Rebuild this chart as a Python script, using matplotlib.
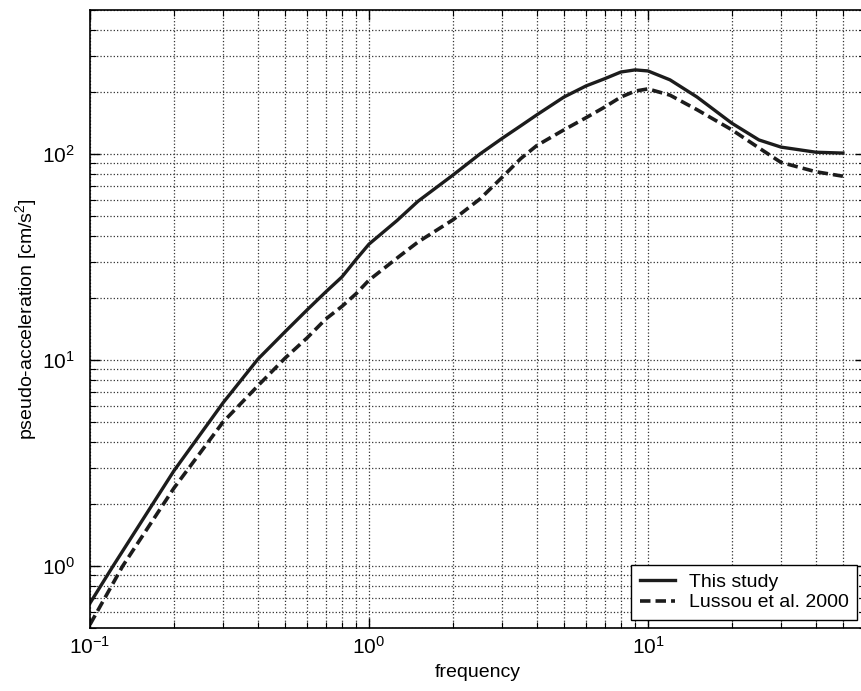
import numpy as np
import matplotlib
matplotlib.use("Agg")
import matplotlib.pyplot as plt
from matplotlib.ticker import LogLocator, NullFormatter

plt.rcParams['font.family'] = ['Liberation Sans', 'DejaVu Sans']
plt.rcParams['mathtext.fontset'] = 'custom'
plt.rcParams['mathtext.rm'] = 'Liberation Sans'
plt.rcParams['mathtext.it'] = 'Liberation Sans:italic'
plt.rcParams['font.size'] = 14

# datos
freq_estudio = [0.1, 0.121, 0.2, 0.3, 0.4, 0.5, 0.6, 0.7, 0.8, 0.9, 1.0, 1.26, 1.5,
                2.0, 2.5, 3.0, 3.5, 4.0, 5.0, 6.0, 7.0, 8.0, 9.0, 10.0, 12.0, 15.0,
                20.0, 25.0, 30.0, 40.0, 50.0]
acel_estudio = [0.66, 1.0, 2.9, 6.2, 10.1, 13.7, 17.5, 21.4, 25.3, 30.8, 36.5, 47.5,
                59.0, 79.0, 100.0, 119.0, 137.0, 155.0, 189.0, 214.0, 232.0, 250.0,
                256.0, 253.0, 229.0, 189.0, 141.0, 117.0, 108.0, 102.0, 101.0]

freq_lussou = [0.1, 0.131, 0.2, 0.3, 0.4, 0.5, 0.6, 0.7, 0.8, 0.9, 1.0, 1.29, 1.5,
               2.0, 2.5, 3.0, 3.5, 4.0, 5.0, 6.0, 7.0, 8.0, 9.0, 10.0, 12.0, 15.0,
               20.0, 25.0, 30.0, 40.0, 50.0]
acel_lussou = [0.52, 1.0, 2.39, 5.0, 7.5, 10.2, 12.8, 15.8, 18.2, 21.0, 24.4, 32.0,
               37.4, 47.9, 60.5, 77.0, 95.0, 110.0, 131.0, 150.0, 169.0, 189.0, 202.0,
               207.0, 193.0, 164.0, 131.0, 107.0, 91.0, 82.0, 78.0]

fig = plt.figure(figsize=(8.62, 6.91), dpi=100)
ax = fig.add_axes([90/862, 63/691, 775/862, 618/691])

ax.loglog(freq_estudio, acel_estudio, color='#1c1c1c', lw=2.4, label='This study')
ax.loglog(freq_lussou, acel_lussou, color='#1c1c1c', lw=2.6, dashes=(2.9, 1.4),
          label='Lussou et al. 2000')

ax.set_xlim(0.1, 60)
ax.set_ylim(0.5, 500)
ax.xaxis.set_major_locator(LogLocator(base=10, numticks=10))
ax.yaxis.set_major_locator(LogLocator(base=10, numticks=10))
ax.xaxis.set_minor_locator(LogLocator(base=10, subs=np.arange(2, 10), numticks=20))
ax.yaxis.set_minor_locator(LogLocator(base=10, subs=np.arange(2, 10), numticks=20))
ax.xaxis.set_minor_formatter(NullFormatter())
ax.yaxis.set_minor_formatter(NullFormatter())

ax.grid(True, which='both', linestyle=':', color='#333333', linewidth=0.9)
ax.tick_params(which='both', direction='in', top=True, right=True, labelsize=15)
ax.tick_params(which='major', length=7, width=1.0)
ax.tick_params(which='minor', length=4, width=0.8)
ax.tick_params(axis='y', which='major', pad=11)
ax.tick_params(axis='x', which='major', pad=6)
for s in ax.spines.values():
    s.set_linewidth(1.2)

ax.set_xlabel("frequency", fontsize=14, labelpad=4)
ax.set_ylabel("pseudo-acceleration [cm/s$^2$]", fontsize=14, labelpad=2)

leg = ax.legend(loc='lower right', fancybox=False, edgecolor='black', framealpha=1,
                fontsize=14, labelspacing=0.15, borderpad=0.45, handlelength=1.8,
                handletextpad=0.7, borderaxespad=0.4)
leg.get_frame().set_linewidth(1.0)

plt.savefig('out.png', dpi=100)
